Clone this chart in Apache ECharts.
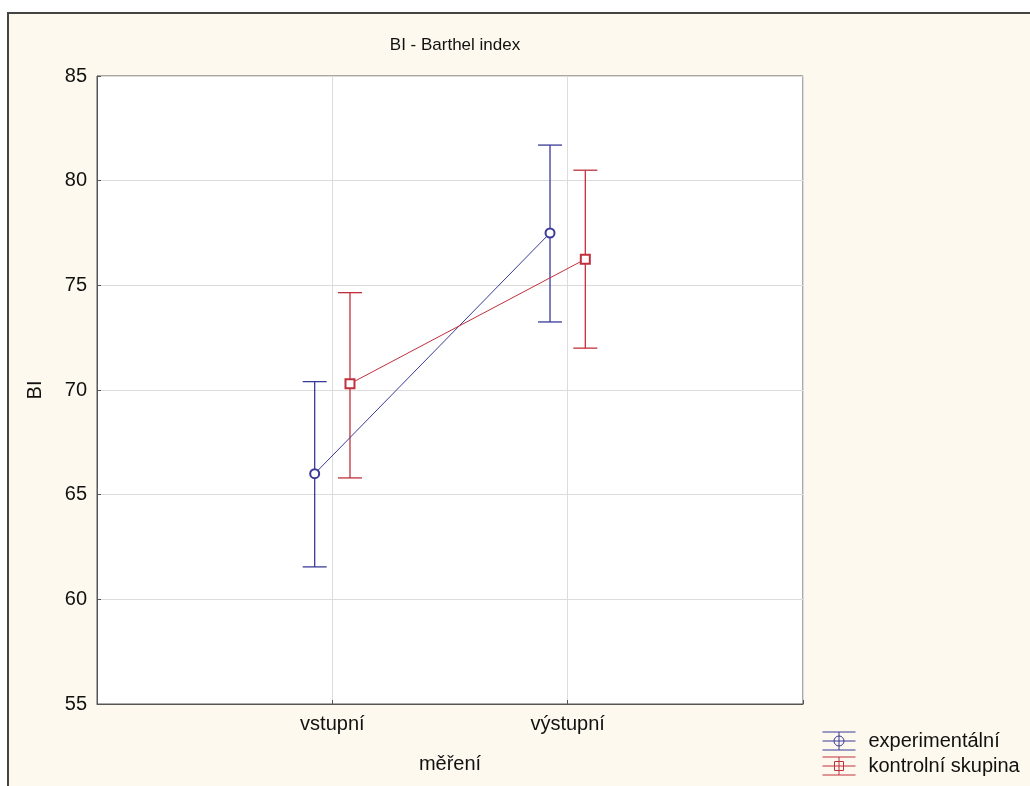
<!DOCTYPE html>
<html>
<head>
<meta charset="utf-8">
<script src="https://cdn.jsdelivr.net/npm/echarts@6/dist/echarts.min.js"></script>
<style>
  html, body { margin: 0; padding: 0; background: #fff; }
  #chart { width: 1030px; height: 786px; }
</style>
</head>
<body>
<div id="chart"></div>
<script>
// data
const categories = ['vstupní', 'výstupní'];
const expMean = [66.0, 77.5];
const expLow = [61.55, 73.25];
const expHigh = [70.4, 81.7];
const ctrlMean = [70.3, 76.25];
const ctrlLow = [65.8, 72.0];
const ctrlHigh = [74.65, 80.5];

const blue = '#3a3a98';
const red = '#c0303c';
const shift = 0.075; // side-by-side offset of the two groups
const font = 'Liberation Sans, Arial, sans-serif';

const expPts = categories.map((c, i) => [i + 1 - shift, expMean[i]]);
const ctrlPts = categories.map((c, i) => [i + 1 + shift, ctrlMean[i]]);
const expBars = categories.map((c, i) => [i + 1 - shift, expLow[i], expHigh[i]]);
const ctrlBars = categories.map((c, i) => [i + 1 + shift, ctrlLow[i], ctrlHigh[i]]);

function errorBar(color){
  return function(params, api){
    const lo = api.coord([api.value(0), api.value(1)]);
    const hi = api.coord([api.value(0), api.value(2)]);
    const w = 12;
    const style = {stroke: color, lineWidth: 1.3};
    return {
      type: 'group',
      children: [
        {type: 'line', shape: {x1: lo[0], y1: lo[1], x2: hi[0], y2: hi[1]}, style},
        {type: 'line', shape: {x1: lo[0] - w, y1: lo[1], x2: lo[0] + w, y2: lo[1]}, style},
        {type: 'line', shape: {x1: hi[0] - w, y1: hi[1], x2: hi[0] + w, y2: hi[1]}, style}
      ]
    }
  }
}

const iconCircle = 'path://M0,0H33M0,9H33M0,18H33M16.5,0V18M21.5,9A5,5,0,1,1,11.5,9A5,5,0,1,1,21.5,9';
const iconSquare = 'path://M0,0H33M0,9H33M0,18H33M16.5,0V18M12,4.5H21V13.5H12Z';

const chart = echarts.init(document.getElementById('chart'));
chart.setOption({
  backgroundColor: '#fff',
  animation: false,
  graphic: [{
    type: 'rect', z: -10, silent: true,
    shape: {x: 8, y: 13, width: 1100, height: 900},
    style: {fill: '#fdf9ee', stroke: '#444', lineWidth: 2}
  }],
  title: {
    text: 'BI - Barthel index',
    left: 450, top: 32, textAlign: 'center',
    textStyle: {fontFamily: font, fontSize: 17, fontWeight: 'normal', color: '#111'}
  },
  legend: {
    orient: 'vertical',
    left: 822, top: 731, padding: 0,
    itemWidth: 33, itemHeight: 18, itemGap: 5,
    selectedMode: false,
    textStyle: {fontFamily: font, fontSize: 20, color: '#111', padding: [0, 0, 0, 8]},
    data: [
      {name: 'experimentální', icon: iconCircle, itemStyle: {color: 'rgba(0,0,0,0)', borderColor: blue, borderWidth: 1}},
      {name: 'kontrolní skupina', icon: iconSquare, itemStyle: {color: 'rgba(0,0,0,0)', borderColor: red, borderWidth: 1}}
    ]
  },
  grid: {
    left: 97, top: 76, right: 227, bottom: 82,
    show: true, backgroundColor: '#fff', borderColor: '#555', borderWidth: 1
  },
  xAxis: {
    type: 'value', min: 0, max: 3, interval: 1,
    name: 'měření', nameLocation: 'middle', nameGap: 50,
    nameTextStyle: {fontFamily: font, fontSize: 20, color: '#111'},
    axisLine: {lineStyle: {color: '#555'}},
    axisTick: {inside: true, length: 4, lineStyle: {color: '#555'}},
    axisLabel: {
      fontFamily: font, fontSize: 20, color: '#111', margin: 10,
      formatter: v => categories[v - 1] || ''
    },
    splitLine: {show: true, lineStyle: {color: '#dcdcdc'}}
  },
  yAxis: {
    type: 'value', min: 55, max: 85, interval: 5,
    name: 'BI', nameLocation: 'middle', nameGap: 52, nameRotate: 90,
    nameTextStyle: {fontFamily: font, fontSize: 20, color: '#111'},
    axisLine: {show: true, lineStyle: {color: '#555'}},
    axisTick: {inside: true, length: 4, lineStyle: {color: '#555'}},
    axisLabel: {fontFamily: font, fontSize: 20, color: '#111', margin: 10},
    splitLine: {show: true, lineStyle: {color: '#dcdcdc'}}
  },
  series: [
    {
      name: 'experimentální', type: 'custom', data: expBars,
      renderItem: errorBar(blue), z: 3, encode: {x: 0, y: [1, 2]}
    },
    {
      name: 'kontrolní skupina', type: 'custom', data: ctrlBars,
      renderItem: errorBar(red), z: 3, encode: {x: 0, y: [1, 2]}
    },
    {
      name: 'experimentální', type: 'line', data: expPts, z: 4,
      symbol: 'emptyCircle', symbolSize: 9,
      lineStyle: {color: blue, width: 1}, itemStyle: {color: blue, borderWidth: 1.2}
    },
    {
      name: 'kontrolní skupina', type: 'line', data: ctrlPts, z: 4,
      symbol: 'emptyRect', symbolSize: 9,
      lineStyle: {color: red, width: 1}, itemStyle: {color: red, borderWidth: 1.2}
    }
  ]
});
</script>
</body>
</html>
